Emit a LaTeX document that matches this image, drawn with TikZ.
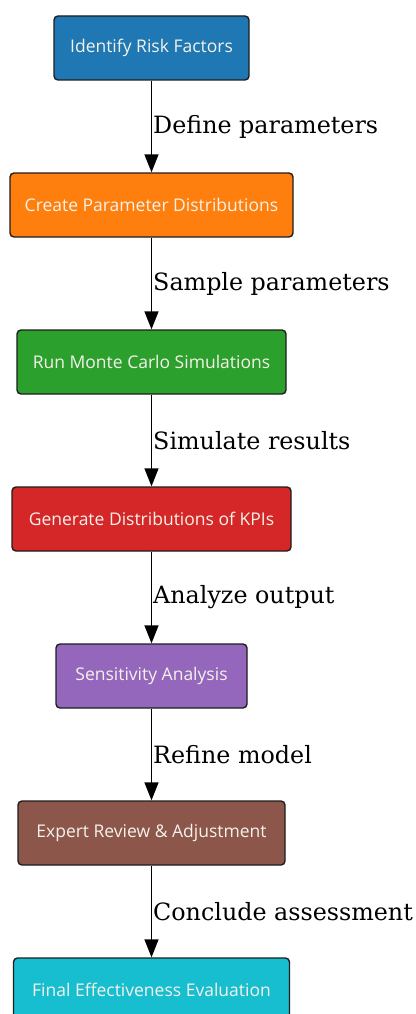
\documentclass[tikz,border=0pt]{standalone}
\usepackage{fontspec}
\setmainfont{DejaVu Serif}
\newfontfamily\boxfont{Open Sans}
\usetikzlibrary{arrows.meta}

\definecolor{stepblue}{HTML}{1F77B4}
\definecolor{steporange}{HTML}{FF7F0E}
\definecolor{stepgreen}{HTML}{2CA02C}
\definecolor{stepred}{HTML}{D62728}
\definecolor{steppurple}{HTML}{9467BD}
\definecolor{stepbrown}{HTML}{8C564B}
\definecolor{stepcyan}{HTML}{17BECF}
\definecolor{boxtext}{HTML}{F4F2EA}
\definecolor{edgeline}{HTML}{1E1E1E}

\begin{document}
\begin{tikzpicture}[x=1pt, y=-1pt,
  stepbox/.style={draw=edgeline, line width=1.4pt, rounded corners=4pt,
    minimum height=64pt, inner sep=0pt, text=boxtext,
    font=\boxfont\fontsize{17.5}{20}\selectfont},
  flow/.style={draw=black, line width=1.4pt,
    -{Triangle[length=18pt, width=14pt]}},
  lbl/.style={anchor=west, inner sep=1pt, text=black,
    font=\fontsize{23.8}{28}\selectfont}]

\useasboundingbox (0,0) rectangle (415,1014);
\clip (0,0) rectangle (415,1014);
\fill[white] (0,0) rectangle (415,1014);

\node[stepbox, fill=stepblue,   minimum width=195pt] (n1) at (151.5,48)  {Identify Risk Factors};
\node[stepbox, fill=steporange, minimum width=283pt] (n2) at (151.5,205) {Create Parameter Distributions};
\node[stepbox, fill=stepgreen,  minimum width=269pt] (n3) at (151.5,362) {Run Monte Carlo Simulations};
\node[stepbox, fill=stepred,    minimum width=279pt] (n4) at (151.5,519) {Generate Distributions of KPIs};
\node[stepbox, fill=steppurple, minimum width=191pt] (n5) at (151.5,676) {Sensitivity Analysis};
\node[stepbox, fill=stepbrown,  minimum width=267pt] (n6) at (151.5,833) {Expert Review \& Adjustment};
\node[stepbox, fill=stepcyan,   minimum width=276pt] (n7) at (151.5,990) {Final Effectiveness Evaluation};

\draw[flow] (n1) -- node[lbl] {Define parameters} (n2);
\draw[flow] (n2) -- node[lbl] {Sample parameters} (n3);
\draw[flow] (n3) -- node[lbl] {Simulate results} (n4);
\draw[flow] (n4) -- node[lbl] {Analyze output} (n5);
\draw[flow] (n5) -- node[lbl] {Refine model} (n6);
\draw[flow] (n6) -- node[lbl] {Conclude assessment} (n7);

\end{tikzpicture}
\end{document}
